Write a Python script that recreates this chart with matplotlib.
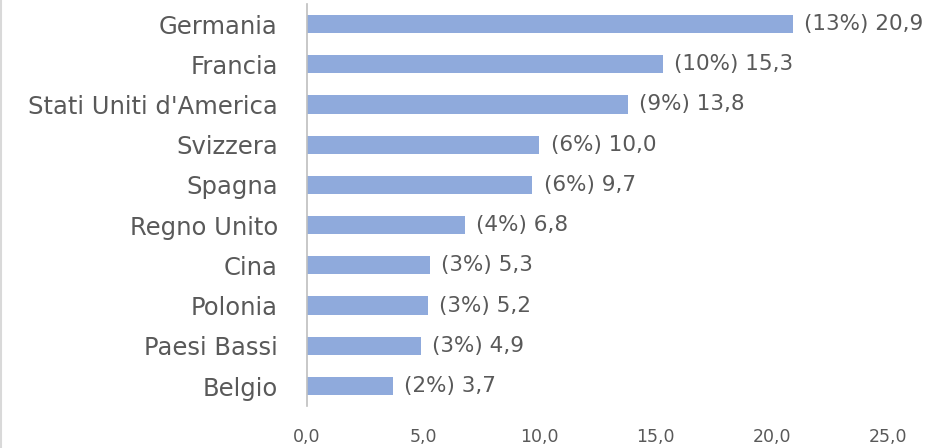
import matplotlib.pyplot as plt
import numpy as np

plt.rcParams['font.family'] = ['DejaVu Sans']

countries = ['Germania', 'Francia', "Stati Uniti d'America", 'Svizzera', 'Spagna',
             'Regno Unito', 'Cina', 'Polonia', 'Paesi Bassi', 'Belgio']
values = [20.9, 15.3, 13.8, 10.0, 9.7, 6.8, 5.3, 5.2, 4.9, 3.7]
shares = [13, 10, 9, 6, 6, 4, 3, 3, 3, 2]
xticks = [0, 5, 10, 15, 20, 25]

bar_color = '#8FAADC'
text_color = '#595959'

fig = plt.figure(figsize=(9.27, 4.48), dpi=100)
fig.patch.set_facecolor('white')
ax = fig.add_axes([307/927, 0.0935, (888-307)/927, 0.8978])

y = np.arange(len(countries))[::-1]
ax.barh(y, values, height=0.455, color=bar_color)

for yi, v, s in zip(y, values, shares):
    lbl = '(%d%%) %s' % (s, ('%.1f' % v).replace('.', ','))
    ax.annotate(lbl, (v, yi), xytext=(8, 0), textcoords='offset points',
                va='center', ha='left', fontsize=15.5, color=text_color,
                annotation_clip=False)

ax.set_xlim(0, 25)
ax.set_ylim(-0.5, len(countries) - 0.5)
ax.set_yticks(y)
ax.set_yticklabels(countries, fontsize=17.5, color=text_color)
ax.set_xticks(xticks)
ax.set_xticklabels([('%.1f' % t).replace('.', ',') for t in xticks], fontsize=12.5, color=text_color)
ax.tick_params(axis='both', length=0)
ax.tick_params(axis='y', pad=21)
ax.tick_params(axis='x', pad=15.5)

for side in ['top', 'right', 'bottom']:
    ax.spines[side].set_visible(False)
ax.spines['left'].set_color('#BFBFBF')
ax.spines['left'].set_linewidth(1.2)

# light chart border on the left edge
fig.add_artist(plt.Line2D([0.001, 0.001], [0, 1], color='#D9D9D9', linewidth=1.5))

fig.savefig('out.png', dpi=100)
